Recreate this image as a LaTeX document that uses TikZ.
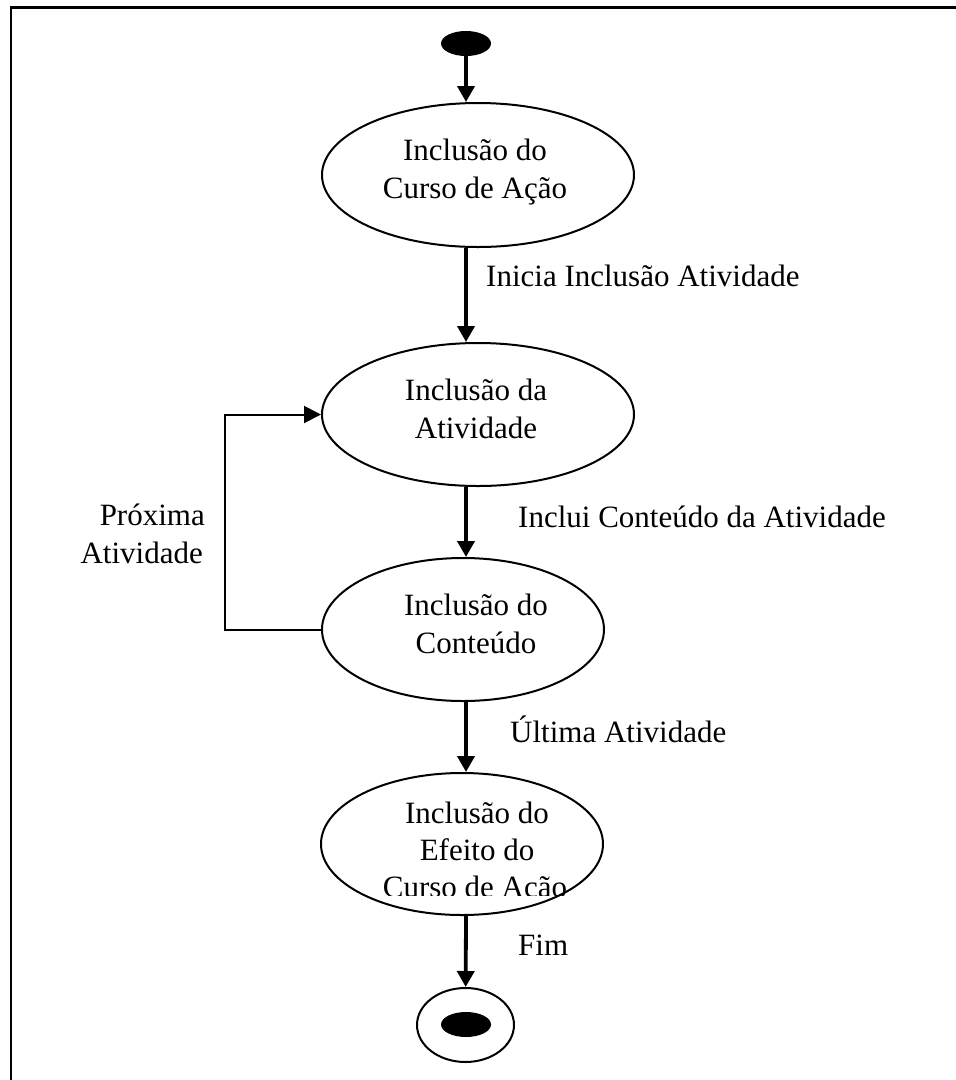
\documentclass[tikz,border=0pt]{standalone}
\usepackage{fontspec}
\setmainfont{Liberation Serif}
\usetikzlibrary{shapes.geometric,arrows.meta}
\begin{document}
\begin{tikzpicture}[x=1pt,y=-1pt,
  state/.style={ellipse, draw, line width=2pt, inner sep=0pt},
  dot/.style={ellipse, fill=black, inner sep=0pt, minimum width=50pt, minimum height=25pt},
  txt/.style={font=\fontsize{31}{37}\selectfont, inner sep=0pt, anchor=base},
  lbl/.style={font=\fontsize{31}{37}\selectfont, inner sep=0pt},
  flow/.style={line width=3.8pt, -{Triangle[length=16pt,width=17pt]}},
  back/.style={line width=2pt, -{Triangle[length=17pt,width=17pt]}},
]
\useasboundingbox (0,0) rectangle (956,1080);
\fill[white] (0,0) rectangle (956,1080);
% frame (top and left edges only)
\draw[line width=2.5pt] (11,1080) -- (11,7.5) -- (956,7.5);

% states
\node[dot] (s) at (466,43.5) {};
\node[state, minimum width=312pt, minimum height=144pt] (e1) at (478,175) {};
\node[state, minimum width=312pt, minimum height=143pt] (e2) at (478,414.5) {};
\node[state, minimum width=282pt, minimum height=143pt] (e3) at (463,629.5) {};
\node[state, minimum width=282pt, minimum height=142pt] (e4) at (462,844) {};
\node[state, minimum width=97pt, minimum height=74pt] (f) at (465.5,1025) {};
\node[dot] (fd) at (466,1024.5) {};

% state texts
\node[txt] (t1a) at (475,160) {Inclusão do};
\node[txt] (t1b) at (475,198) {Curso de Ação};
\node[txt] (t2a) at (476,400) {Inclusão da};
\node[txt] (t2b) at (476,438) {Atividade};
\node[txt] (t3a) at (476,615) {Inclusão do};
\node[txt] (t3b) at (476,653) {Conteúdo};
\node[txt] (t4a) at (477,823) {Inclusão do};
\node[txt] (t4b) at (477,860) {Efeito do};
\begin{scope}
  \clip (300,870) rectangle (650,895);
  \node[txt] (t4c) at (475,897) {Curso de Ação};
\end{scope}

% transitions
\draw[flow] (s) -- (e1.north -| s);
\draw[flow] (e1.south -| s) -- (e2.north -| s);
\draw[flow] (e2.south -| s) -- (e3.north -| s);
\draw[flow] (e3.south -| s) -- (e4.north -| s);
\draw[flow] (e4.south -| s) -- (f);
\draw[back] (e3.west) -- ++(-96,0) |- (e2.west);

% labels
\node[lbl, anchor=base west] (l1) at (486,286) {Inicia Inclusão Atividade};
\node[lbl, anchor=base west] (l2) at (518,527) {Inclui Conteúdo da Atividade};
\node[lbl, anchor=base east] (l3) at (205,525) {Próxima};
\node[lbl, anchor=base east] (l4) at (203,563) {Atividade};
\node[lbl, anchor=base west] (l5) at (510,742) {Última Atividade};
\node[lbl, anchor=base west] (l6) at (518,955) {Fim};
\end{tikzpicture}
\end{document}
